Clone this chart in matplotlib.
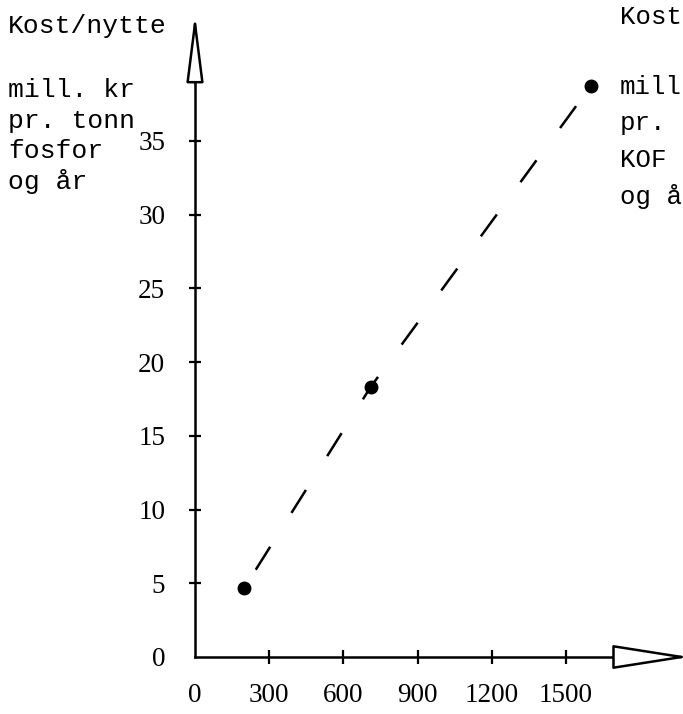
import matplotlib
matplotlib.use("Agg")
import matplotlib.pyplot as plt

# ---- data ----
x_vals = [200, 710, 1600]          # x values of the three points
y_vals = [4.7, 18.3, 38.7]         # cost/benefit, mill. kr per tonne phosphorus per year
x_ticks = [0, 300, 600, 900, 1200, 1500]
y_ticks = [0, 5, 10, 15, 20, 25, 30, 35]
left_label = ["Kost/nytte", "mill. kr", "pr. tonn", "fosfor", "og år"]
right_label = ["Kost", "mill", "pr.", "KOF", "og å"]   # cut off at the page edge in the source

plt.rcParams["font.family"] = ["Liberation Serif", "DejaVu Serif"]
plt.rcParams["lines.scale_dashes"] = False

W, H = 683, 714
fig = plt.figure(figsize=(W / 100, H / 100), dpi=100)
fig.patch.set_facecolor("white")
ax = fig.add_axes([0, 0, 1, 1])
ax.patch.set_visible(False)

# pixel mapping: x_px = 195 + 0.2473*x ; y_px(from top) = 657 - 14.75*y
ax.set_xlim(-195 / 0.2473, (W - 195) / 0.2473)
ax.set_ylim(-(H - 657) / 14.75, 657 / 14.75)

for s in ["top", "right"]:
    ax.spines[s].set_visible(False)
ax.spines["left"].set_position(("data", 0))
ax.spines["bottom"].set_position(("data", 0))
ax.spines["left"].set_bounds(0, 39.0)
ax.spines["bottom"].set_bounds(0, 1725)
for s in ["left", "bottom"]:
    ax.spines[s].set_linewidth(1.8)
    ax.spines[s].set_capstyle("projecting")

ax.set_xticks(x_ticks)
ax.set_xticklabels([str(v) for v in x_ticks])
ax.set_yticks(y_ticks)
ax.set_yticklabels([str(v) for v in y_ticks])
ax.tick_params(axis="y", direction="inout", length=9, width=1.6, pad=17, labelsize=19.5)
ax.tick_params(axis="x", direction="inout", length=10, width=1.6, pad=14, labelsize=19.5)
ax.xaxis.get_major_ticks()[0].tick1line.set_visible(False)
ax.yaxis.get_major_ticks()[0].tick1line.set_visible(False)

# axis arrow heads (open)
ax.annotate("", xy=(0, 43.6), xytext=(0, 38.9), annotation_clip=False,
            arrowprops=dict(arrowstyle="-|>,head_length=3.0,head_width=0.38",
                            mutation_scale=14, fc="white", ec="black", lw=1.8,
                            shrinkA=0, shrinkB=0))
ax.annotate("", xy=(2000, 0), xytext=(1722, 0), annotation_clip=False,
            arrowprops=dict(arrowstyle="-|>,head_length=3.5,head_width=0.55",
                            mutation_scale=14, fc="white", ec="black", lw=1.8,
                            shrinkA=0, shrinkB=0))

# data: dashed line with dots
ax.plot(x_vals, y_vals, color="black", lw=1.8, ls=(33, (19.5, 28.8)),
        marker="o", ms=9, mfc="black", mec="black", zorder=3)

# left axis title
mono = dict(family=["Liberation Mono", "DejaVu Sans Mono"], fontsize=19, color="black",
            va="baseline", ha="left")
left_base = [33, 97, 128, 158, 189]
for txt, yb in zip(left_label, left_base):
    fig.text(8 / W, 1 - yb / H, txt, **mono)

# right (cut-off) axis title
mono_r = dict(mono, fontsize=18.5)
right_base = [24, 94, 130, 167, 204]
right_x = [620, 620, 620, 620, 620]
for txt, yb, xp in zip(right_label, right_base, right_x):
    fig.text(xp / W, 1 - yb / H, txt, **mono_r)

fig.savefig("out.png", dpi=100, facecolor="white")
